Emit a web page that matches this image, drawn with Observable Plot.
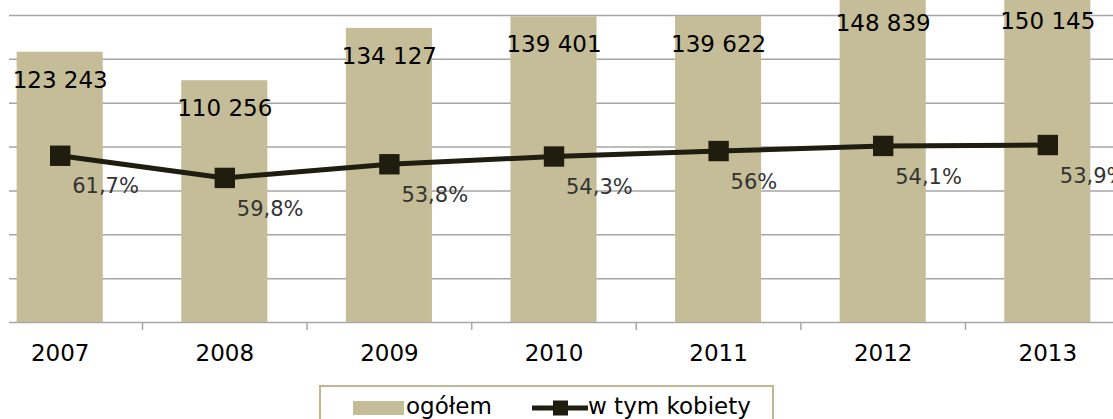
<!DOCTYPE html>
<html>
<head>
<meta charset="utf-8">
<script src="https://cdn.jsdelivr.net/npm/d3@7"></script>
<script src="https://cdn.jsdelivr.net/npm/@observablehq/plot@0.6"></script>
<style>
  html, body { margin: 0; padding: 0; background: #fff; overflow: hidden; }
  body { width: 1113px; height: 419px; position: relative; font-family: "DejaVu Sans", Verdana, sans-serif; color: #000; }
  #chart { position: absolute; left: 0; top: 0; }
  #legend {
    position: absolute; left: 319px; top: 385px; width: 455px; height: 40px;
    border: 2px solid #bfb791; box-sizing: border-box; background: #fff;
    font-size: 23px; color: #000;
  }
  .item { position: absolute; top: 5px; height: 28px; line-height: 28px; white-space: nowrap; }
  .sw { display: inline-block; vertical-align: middle; }
</style>
</head>
<body>
<div id="chart"></div>
<div id="legend">
  <div class="item" style="left:32px;">
    <svg class="sw" width="51" height="14" style="margin-right:2px;"><rect x="0" y="0" width="51" height="14" fill="#c4bd97"/></svg><span>ogółem</span>
  </div>
  <div class="item" style="left:211px;">
    <svg class="sw" width="56" height="18" style="margin-right:0px;"><line x1="0" y1="9" x2="56" y2="9" stroke="#1f1c10" stroke-width="5"/><rect x="21" y="1.5" width="15" height="15" fill="#201d0e"/></svg><span>w tym kobiety</span>
  </div>
</div>
<script>
// Data
const years = ["2007", "2008", "2009", "2010", "2011", "2012", "2013"];
const totals = [123243, 110256, 134127, 139401, 139622, 148839, 150145];
const women = [76041, 65933, 72160, 75695, 78188, 80522, 80928];
const womenPct = [61.7, 59.8, 53.8, 54.3, 56, 54.1, 53.9];
const yTicks = [0, 20000, 40000, 60000, 80000, 100000, 120000, 140000];

const rows = years.map((year, i) => ({year, total: totals[i], women: women[i], pct: womenPct[i]}));

const locale = d3.formatLocale({decimal: ",", thousands: " ", grouping: [3], currency: ["", ""]});
const fmtInt = locale.format(",d");
const fmtPct = v => String(v).replace(".", ",") + "%";

const W = 1113, H = 380;
const xRange = [-22.6, 1129.6];
const bandStep = (xRange[1] - xRange[0]) / years.length;
const barColor = "#c4bd97";
const lineColor = "#1f1c10";
const gridColor = "#a6a6a6";

const chart = Plot.plot({
  width: W,
  height: H,
  marginTop: 15,
  marginBottom: 58,
  marginLeft: 9,
  marginRight: 0,
  style: {fontFamily: "DejaVu Sans, Verdana, sans-serif", fontSize: "23px", background: "transparent", color: "#000"},
  x: {type: "band", domain: years, range: xRange, paddingInner: 0.477, paddingOuter: 0.2385, round: false, axis: null, label: null},
  y: {domain: [0, 140000], axis: null, label: null},
  marks: [
    Plot.ruleY(yTicks, {stroke: gridColor, strokeWidth: 1.5}),
    Plot.barY(rows, {x: "year", y: "total", fill: barColor}),
    Plot.axisX(years.slice(1), {tickSize: 8, tickFormat: () => "", label: null, dx: -bandStep / 2, stroke: gridColor, strokeWidth: 1.5}),
    Plot.axisX({tickSize: 0, tickPadding: 22, fontSize: 23, fill: "#000", label: null}),
    Plot.line(rows, {x: "year", y: "women", stroke: lineColor, strokeWidth: 5}),
    Plot.dot(rows, {x: "year", y: "women", symbol: "square", r: 11.5, fill: "#201d0e", stroke: "none"}),
    Plot.text(rows, {x: "year", y: "total", text: d => fmtInt(d.total), dy: 28, fontSize: 23, fill: "#000"}),
    Plot.text(rows, {x: "year", y: "women", text: d => fmtPct(d.pct), dy: 31, dx: 12, textAnchor: "start", fontSize: 21, fill: "#333"})
  ]
});
document.getElementById("chart").appendChild(chart);
</script>
</body>
</html>
